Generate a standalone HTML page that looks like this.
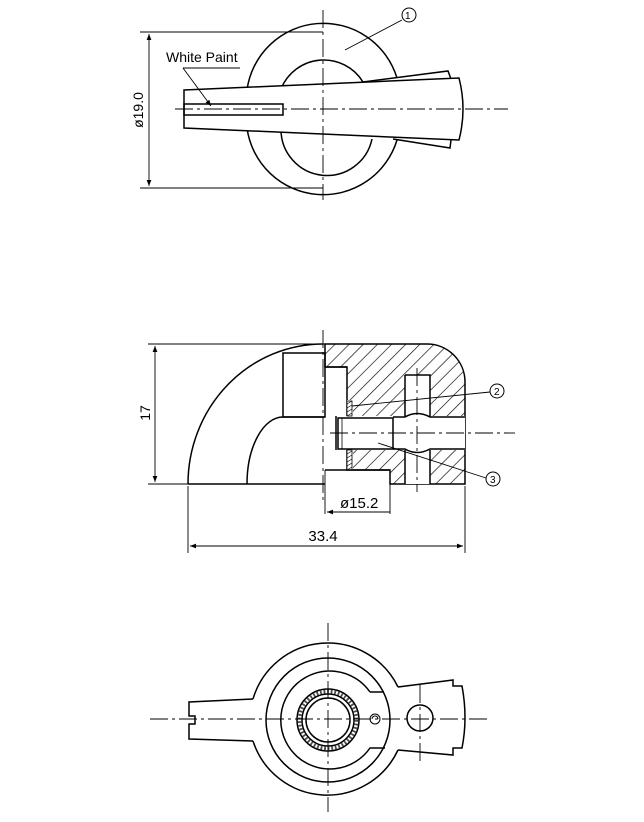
<!DOCTYPE html>
<html><head><meta charset="utf-8"><style>
html,body{margin:0;padding:0;background:#fff}
svg{display:block}
text{font-family:"Liberation Sans",sans-serif;fill:#000}
</style></head><body>
<svg width="644" height="822" viewBox="0 0 644 822" xmlns="http://www.w3.org/2000/svg">
<defs>
<pattern id="h" patternUnits="userSpaceOnUse" width="10" height="10" patternTransform="rotate(45)">
<line x1="0" y1="0" x2="0" y2="10" stroke="#000" stroke-width="1.3"/>
</pattern>
<marker id="a" viewBox="0 0 10 10" refX="10" refY="5" markerWidth="10" markerHeight="6" orient="auto-start-reverse" markerUnits="userSpaceOnUse">
<path d="M0,1 L10,5 L0,9 z" fill="#000"/></marker>
</defs>
<g fill="none" stroke="#000" stroke-width="1.5">
<!-- ===== TOP VIEW ===== -->
<path d="M247,90 A77,77 0 0 1 397,78"/>
<path d="M247,128 A77,77 0 0 0 397,140"/>
<path d="M281,89 A46,46 0 0 1 363,82"/>
<path d="M281,129 A46,46 0 0 0 372,139"/>
<path d="M363,82 L448,71 L451,79"/>
<path d="M393,139 L450,148 L451,140"/>
<path d="M184,90 L459,78 Q467,109 459,140 L184,128 Z" fill="#fff"/>
<rect x="184" y="104" width="99" height="11"/>
<g stroke-width="0.9" stroke-dasharray="18,4,3,4">
<line x1="323" y1="10" x2="323" y2="200"/>
<line x1="175" y1="109" x2="508" y2="109"/>
</g>
<g stroke-width="0.9">
<line x1="140" y1="32" x2="323" y2="32"/>
<line x1="140" y1="188" x2="323" y2="188"/>
<line x1="149" y1="34" x2="149" y2="186" marker-start="url(#a)" marker-end="url(#a)"/>
<line x1="183" y1="68" x2="240" y2="68"/>
<line x1="183" y1="68" x2="211" y2="106" marker-end="url(#a)"/>
<line x1="345" y1="50" x2="402" y2="20"/>
</g>
<circle cx="409" cy="15" r="7" stroke-width="1"/>

<!-- ===== SECTION VIEW ===== -->
<path d="M188,484 A135,140 0 0 1 323,344"/>
<path d="M247,484 A36,67 0 0 1 283,417 L325,417"/>
<rect x="283" y="353" width="42" height="64"/>
<line x1="188" y1="484" x2="325" y2="484"/>
<path d="M325,344 L427,344 A38,38 0 0 1 465,382 L465,484 L390,484 L390,470 L347,470 L347,367 L325,367 Z" fill="url(#h)"/>
<rect x="336" y="416" width="129" height="34" fill="#fff" stroke="none"/>
<rect x="405" y="375" width="25" height="109" fill="#fff" stroke="none"/>
<rect x="347" y="400" width="6" height="70" fill="#fff" stroke="none"/>
<path d="M405,375 L430,375 L430,417 M405,375 L405,417 M405,450 L405,484 M430,450 L430,484"/>
<path d="M393,417 L405,417 Q417,410 430,417 L465,417 M393,449 L405,449 Q417,456 430,449 L465,449"/>
<path d="M336,416 L336,450"/>
<rect x="338" y="418" width="55" height="31"/>
<line x1="342" y1="418" x2="342" y2="449" stroke-width="0.8"/>
<rect x="347" y="401" width="5" height="15" stroke-width="0.8"/>
<rect x="347" y="450" width="5" height="20" stroke-width="0.8"/>
<g stroke-width="0.6"><path d="M347,404 L352,401 M347,408 L352,405 M347,412 L352,409 M347,416 L352,413 M347,454 L352,451 M347,458 L352,455 M347,462 L352,459 M347,466 L352,463 M347,470 L352,467"/></g>
<path d="M325,367 L347,367 M325,470 L390,470"/>
<g stroke-width="0.9" stroke-dasharray="18,4,3,4">
<line x1="323" y1="330" x2="323" y2="500"/>
<line x1="330" y1="433" x2="515" y2="433"/>
<line x1="417" y1="368" x2="417" y2="492"/>
</g>
<g stroke-width="0.9">
<line x1="352" y1="406" x2="490" y2="392"/>
<line x1="378" y1="443" x2="486" y2="478"/>
</g>
<circle cx="497" cy="391" r="7" stroke-width="1"/>
<circle cx="493" cy="479" r="7" stroke-width="1"/>
<g stroke-width="0.9">
<line x1="148" y1="344" x2="325" y2="344"/>
<line x1="148" y1="484" x2="188" y2="484"/>
<line x1="155" y1="346" x2="155" y2="482" marker-start="url(#a)" marker-end="url(#a)"/>
<line x1="390" y1="484" x2="390" y2="514"/>
<line x1="325" y1="470" x2="325" y2="514"/>
<line x1="390" y1="512" x2="327" y2="512" marker-end="url(#a)"/>
<line x1="188" y1="486" x2="188" y2="553"/>
<line x1="465" y1="486" x2="465" y2="553"/>
<line x1="190" y1="546" x2="463" y2="546" marker-start="url(#a)" marker-end="url(#a)"/>
</g>

<!-- ===== BOTTOM VIEW ===== -->
<path d="M253,699 A78,78 0 0 1 398,687"/>
<path d="M253,741 A78,78 0 0 0 398,750"/>
<path d="M253,699 L189,702 L189,716 L195,716 L195,724 L189,724 L189,739 L253,741"/>
<path d="M398,687 L453,680 L453,686 L462,686 Q468,718 462,748 L453,748 L453,755 L398,750"/>
<circle cx="328" cy="720" r="62"/>
<path d="M370,692 A49,49 0 1 0 370,748 L385,748 M370,692 L384,692"/>
<circle cx="328" cy="720" r="31"/>
<circle cx="328" cy="720" r="26"/>
<circle cx="328" cy="720" r="28.5" stroke-width="3.5" stroke-dasharray="1.8,1.8" stroke-opacity="0.7"/>
<circle cx="328" cy="720" r="22"/>
<circle cx="420" cy="718" r="13"/>
<circle cx="375" cy="719" r="5" stroke-width="1"/>
<path d="M372,719 A3,3 0 0 1 378,719" stroke-width="1"/>
<g stroke-width="0.9" stroke-dasharray="18,4,3,4">
<line x1="328" y1="623" x2="328" y2="812"/>
<line x1="150" y1="719" x2="488" y2="719"/>
<line x1="420" y1="685" x2="420" y2="762"/>
</g>
</g>
<text x="166" y="62" font-size="14">White Paint</text>
<text x="405" y="19" font-size="10">1</text>
<text x="494" y="395" font-size="10">2</text>
<text x="490" y="483" font-size="10">3</text>
<text transform="translate(143,110) rotate(-90)" font-size="14" text-anchor="middle">ø19.0</text>
<text transform="translate(150,413) rotate(-90)" font-size="14" text-anchor="middle">17</text>
<text x="340" y="508" font-size="15">ø15.2</text>
<text x="323" y="541" font-size="15" text-anchor="middle">33.4</text>
</svg>
</body></html>
